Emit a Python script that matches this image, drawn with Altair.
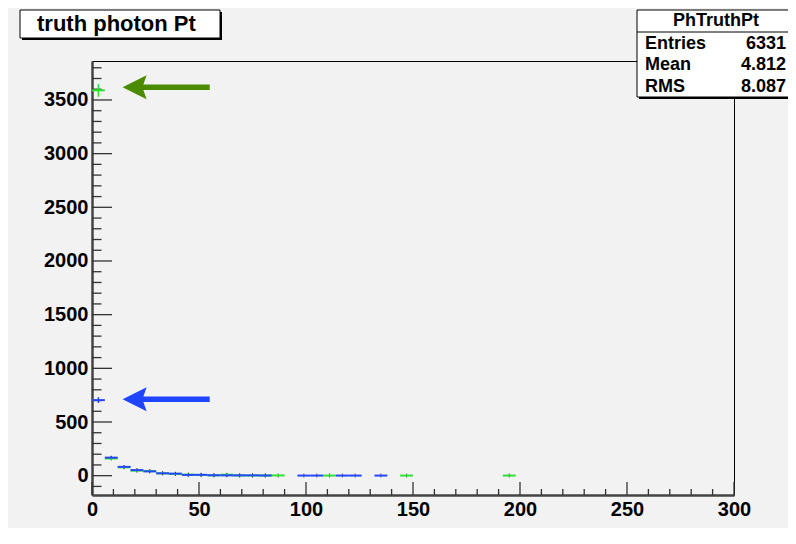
import altair as alt
import pandas as pd
import numpy as np

# ---------------- data ----------------
bin_width = 6  # GeV, 50 bins from 0 to 300
green_bins = [0, 1, 2, 3, 4, 5, 6, 7, 8, 9, 10, 11, 12, 13, 14, 18, 24, 32]
green_counts = [3590, 160, 78, 47, 43, 22, 16, 10, 6, 3, 9, 2, 2, 1, 2, 1, 1, 1]
blue_bins = [0, 1, 2, 3, 4, 5, 6, 7, 8, 9, 10, 11, 12, 13, 16, 17, 19, 20, 22]
blue_counts = [704, 168, 82, 52, 40, 22, 19, 7, 8, 4, 3, 3, 3, 2, 1, 1, 1, 1, 1]
series_names = ["green", "blue"]
series_colors = ["#2ee32e", "#2546ff"]

x_major = [0, 50, 100, 150, 200, 250, 300]
x_minor = [10, 20, 30, 40, 60, 70, 80, 90, 110, 120, 130, 140, 160, 170, 180, 190,
           210, 220, 230, 240, 260, 270, 280, 290]
y_major = [0, 500, 1000, 1500, 2000, 2500, 3000, 3500]
y_minor = [v for v in range(-100, 3801, 100) if v % 500 != 0]

arrow_names = ["arrow green", "arrow blue"]
arrow_y = [3618, 712]
arrow_tip_x = [14.3, 14.3]
arrow_tail_x = [55, 55]
arrow_colors = ["#4b8b00", "#1f45ff"]

hist_title = "truth photon Pt"
stat_title = "PhTruthPt"
stat_labels = ["Entries", "Mean", "RMS"]
stat_values = ["6331", "4.812", "8.087"]

# ---------------- tables ----------------
rows = []
for name, bins, counts in [("green", green_bins, green_counts), ("blue", blue_bins, blue_counts)]:
    for b, c in zip(bins, counts):
        lo = b * bin_width
        e = float(np.sqrt(c))
        rows.append({"series": name, "low": lo, "high": lo + bin_width,
                     "center": lo + bin_width / 2, "count": c,
                     "elo": c - e, "ehi": c + e})
df = pd.DataFrame(rows)

arrows = pd.DataFrame({"name": arrow_names, "y": arrow_y, "tip": arrow_tip_x, "tail": arrow_tail_x})

W, H = 642, 434
FONT = "Liberation Sans"

xs = alt.Scale(domain=[0, 300], nice=False, zero=False)
ys = alt.Scale(domain=[-180, 3863], nice=False, zero=False)
xaxis = alt.Axis(values=x_major, ticks=False, tickSize=0, labelPadding=4.5, domainColor="#444",
                 domainWidth=2.5, grid=False, title=None, labelFlush=False, labelOverlap=False,
                 labelFont=FONT, labelFontSize=20, labelFontWeight="bold", labelColor="#000", format="d")
yaxis = alt.Axis(values=y_major, ticks=False, tickSize=0, labelPadding=4, domainColor="#444",
                 domainWidth=2.5, grid=False, title=None, labelOverlap=False,
                 labelFont=FONT, labelFontSize=20, labelFontWeight="bold", labelColor="#000", format="d")
all_names = series_names + arrow_names
all_colors = series_colors + arrow_colors
ccol = lambda f: alt.Color(f, scale=alt.Scale(domain=all_names, range=all_colors), legend=None)

layers = []

# tick marks drawn inside the frame
def tick_layer(vals, axis, length):
    d = pd.DataFrame({"v": vals})
    if axis == "y":
        return alt.Chart(d).mark_rule(color="#333", strokeWidth=1.3).encode(
            y=alt.Y("v:Q", scale=ys, axis=yaxis), x=alt.value(0), x2=alt.value(length))
    return alt.Chart(d).mark_rule(color="#333", strokeWidth=1.3).encode(
        x=alt.X("v:Q", scale=xs, axis=xaxis), y=alt.value(H), y2=alt.value(H - length))

layers += [tick_layer(y_major, "y", 20), tick_layer(y_minor, "y", 9.5),
           tick_layer(x_major, "x", 13), tick_layer(x_minor, "x", 6)]

base = alt.Chart(df)
layers.append(base.mark_tick(orient="vertical", size=4, thickness=1, color="#1a1a1a").encode(
    x=alt.X("center:Q", scale=xs, axis=xaxis), y=alt.Y("count:Q", scale=ys, axis=yaxis)))
layers.append(base.mark_rule(strokeWidth=1.5).encode(
    x=alt.X("center:Q", scale=xs, axis=xaxis), y=alt.Y("elo:Q", scale=ys, axis=yaxis), y2="ehi:Q",
    color=ccol("series:N")))
layers.append(base.mark_rule(strokeWidth=2).encode(
    x=alt.X("low:Q", scale=xs, axis=xaxis), x2="high:Q", y=alt.Y("count:Q", scale=ys, axis=yaxis),
    color=ccol("series:N")))

# arrows
achart = alt.Chart(arrows)
layers.append(achart.mark_rule(strokeWidth=5.5, x2Offset=10).encode(
    x=alt.X("tail:Q", scale=xs, axis=xaxis), x2="tip:Q", y=alt.Y("y:Q", scale=ys, axis=yaxis),
    color=ccol("name:N")))
layers.append(achart.mark_point(shape="M0,0L2,-1L1.65,0L2,1Z", size=576, filled=True, opacity=1, strokeWidth=0).encode(
    x=alt.X("tip:Q", scale=xs, axis=xaxis), y=alt.Y("y:Q", scale=ys, axis=yaxis), color=ccol("name:N")))

one = pd.DataFrame({"k": [0]})

def prect(x1, x2, y1, y2, fill, stroke=None):
    kw = {"fill": fill}
    if stroke:
        kw.update(stroke=stroke, strokeWidth=1)
    return alt.Chart(one).mark_rect(**kw).encode(
        x=alt.value(x1), x2=alt.value(x2), y=alt.value(y1), y2=alt.value(y2))

def ptext(s, x, y, align="left", size=18, baseline="middle"):
    return alt.Chart(pd.DataFrame({"t": [s]})).mark_text(
        align=align, baseline=baseline, font=FONT, fontSize=size, fontWeight="bold", color="#000").encode(
        x=alt.value(x), y=alt.value(y), text="t:N")

# title box
layers.append(prect(-70, 130, -49, -21, "#000"))
layers.append(prect(-72, 128, -51, -23, "#fff", "#000"))
layers.append(ptext(hist_title, -55, -37, size=22))

# stats box (clipped by the right edge, as in the reference)
layers.append(prect(547, 700, -49, 38, "#000"))
layers.append(prect(545, 700, -51, 36, "#fff", "#000"))
layers.append(alt.Chart(one).mark_rule(color="#000", strokeWidth=1).encode(
    x=alt.value(545), x2=alt.value(700), y=alt.value(-29)))
layers.append(ptext(stat_title, 624, -40, align="center"))
row_y = [-17.5, 4, 26]
for lab, val, yy in zip(stat_labels, stat_values, row_y):
    layers.append(ptext(lab, 553, yy))
    layers.append(ptext(val, 694, yy, align="right"))

chart = alt.layer(*layers).properties(
    width=W, height=H,
    padding={"left": 84, "top": 53, "right": 54, "bottom": 33},
    autosize=alt.AutoSizeParams(type="none"),
    background="#f2f2f2",
).configure_view(stroke="#000", strokeWidth=1, fill="#f2f2f2")

chart.save("out.html", embed_options={"renderer": "svg", "actions": False})
